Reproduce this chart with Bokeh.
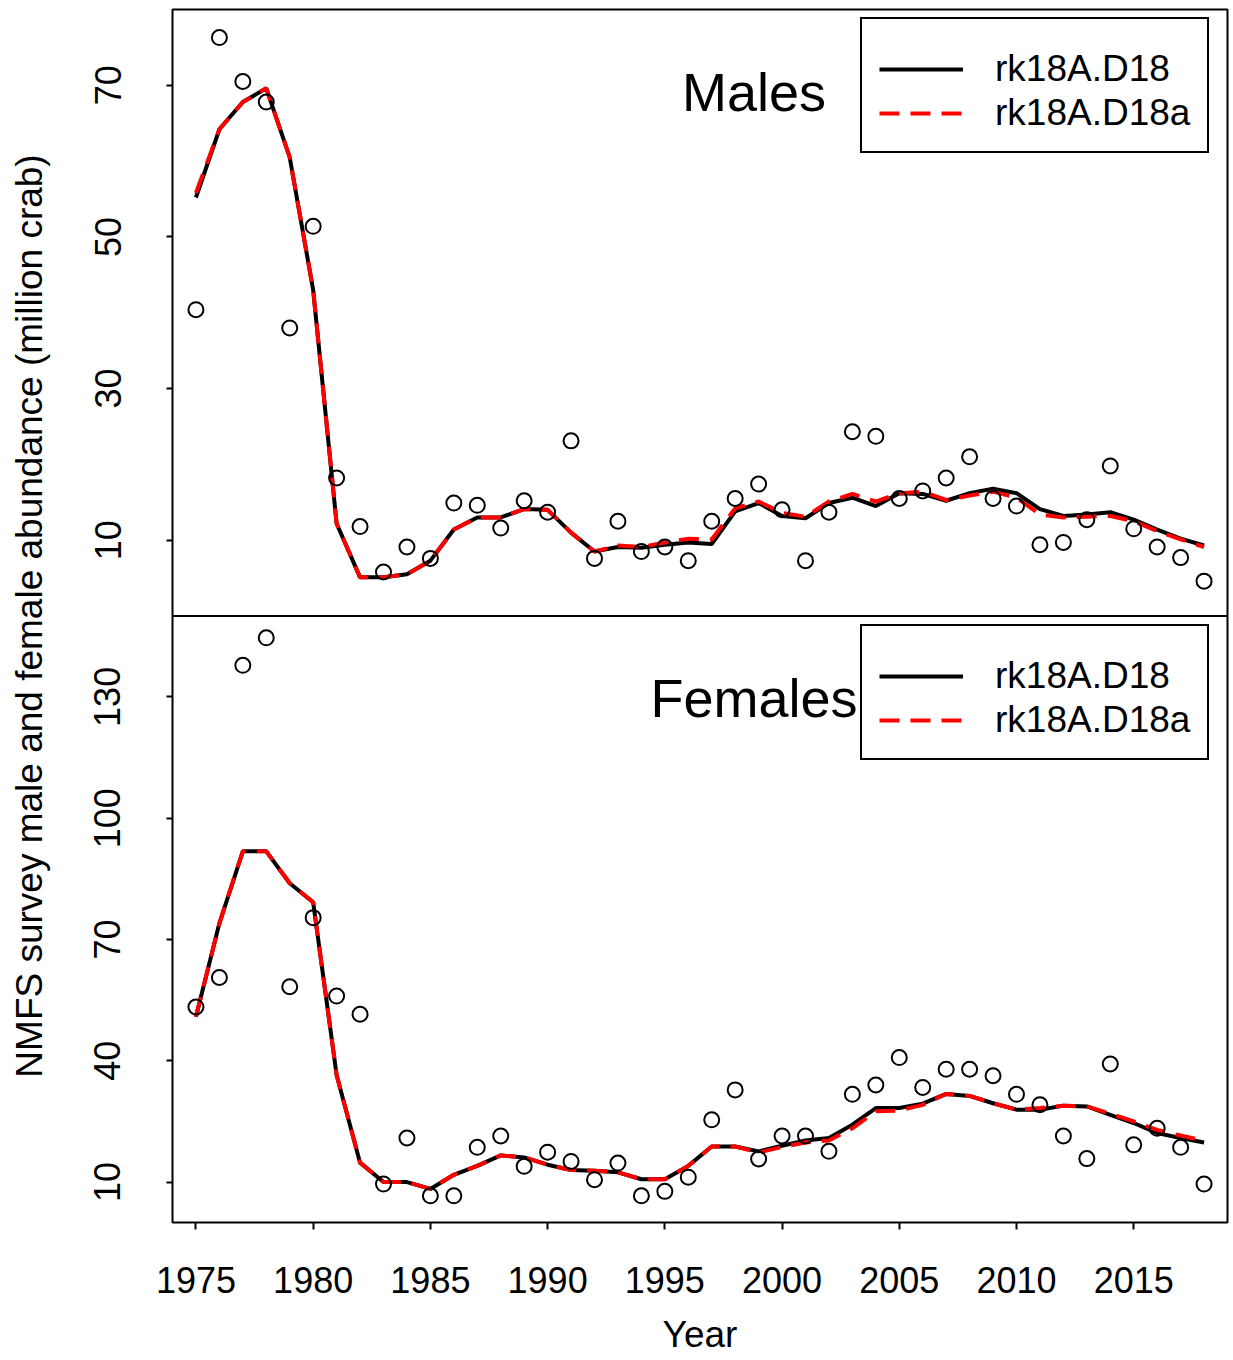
from bokeh.plotting import figure
from bokeh.models import (Range1d, FixedTicker, CustomJSTickFormatter, Span,
                          Legend, LegendItem, Label, ColumnDataSource)
from bokeh.embed import file_html
from bokeh.resources import INLINE

years = list(range(1975, 2019))

male_obs = [40.4, 76.3, 70.5, 67.8, 38.0, 51.4,
            18.2, 11.8, 5.8, 9.1, 7.6,
            14.9, 14.6, 11.6, 15.2, 13.7,
            23.1, 7.6, 12.5, 8.5, 9.1,
            7.3, 12.5, 15.5, 17.4, 14.0,
            7.3, 13.7, 24.3, 23.7, 15.5,
            16.5, 18.2, 21.0, 15.5, 14.5,
            9.4, 9.7, 12.7, 19.8, 11.5,
            9.1, 7.7, 4.6]
male_d18 = [55.2, 64.2, 67.8, 69.6, 60.5, 43.0,
            12.2, 5.1, 5.1, 5.5, 7.3,
            11.4, 13.0, 13.0, 14.1, 14.0,
            11.0, 8.5, 9.1, 9.0, 9.4,
            9.7, 9.5, 13.8, 14.9, 13.2,
            12.9, 14.9, 15.6, 14.5, 16.2,
            16.1, 15.2, 16.2, 16.8, 16.2,
            14.1, 13.2, 13.4, 13.7, 12.7,
            11.4, 10.2, 9.3]
male_d18a = [55.8, 64.2, 67.8, 69.6, 60.5, 43.0,
             12.2, 5.1, 5.1, 5.5, 7.3,
             11.4, 13.0, 13.0, 14.1, 14.0,
             11.0, 8.5, 9.3, 9.1, 9.7,
             10.2, 10.1, 14.2, 15.1, 13.6,
             13.1, 15.1, 16.1, 15.1, 16.2,
             16.4, 15.3, 15.9, 16.4, 15.6,
             13.4, 13.0, 13.1, 13.2, 12.5,
             11.2, 10.1, 9.1]
female_obs = [53.3, 60.6, 137.8, 144.6, 58.3, 75.4,
              56.0, 51.5, 9.5, 20.9, 6.6,
              6.6, 18.6, 21.4, 13.9, 17.4,
              15.1, 10.6, 14.7, 6.6, 7.7,
              11.2, 25.4, 32.8, 15.7, 21.4,
              21.4, 17.6, 31.7, 34.0, 40.8,
              33.4, 37.9, 37.9, 36.3, 31.7,
              29.1, 21.4, 15.8, 39.2, 19.2,
              23.3, 18.6, 9.5]
female_d18 = [50.9, 74.0, 91.8, 91.8, 83.9, 79.2,
              36.5, 14.8, 10.0, 10.0, 8.3,
              11.8, 14.0, 16.6, 16.1, 14.3,
              13.0, 12.8, 12.4, 10.7, 10.7,
              14.0, 18.8, 18.8, 17.6, 19.0,
              20.3, 20.9, 24.2, 28.3, 28.3,
              29.4, 31.8, 31.3, 29.5, 27.9,
              27.9, 28.9, 28.7, 26.6, 24.6,
              22.1, 20.9, 19.8]
female_d18a = [50.9, 74.0, 91.8, 91.8, 83.9, 79.2,
               36.5, 14.8, 10.0, 10.0, 8.3,
               11.8, 14.0, 16.6, 16.1, 14.3,
               13.0, 12.8, 12.4, 10.7, 10.7,
               14.0, 18.8, 18.8, 17.3, 18.7,
               19.8, 20.3, 23.3, 27.5, 27.7,
               29.1, 31.8, 31.3, 29.5, 27.9,
               28.3, 28.9, 28.7, 26.9, 25.0,
               22.9, 21.5, 20.2]

x_ticks = [1975, 1980, 1985, 1990, 1995, 2000, 2005, 2010, 2015]
male_ticks = [10, 30, 50, 70]
female_ticks = [10, 40, 70, 100, 130]
series_labels = ["rk18A.D18", "rk18A.D18a"]
panel_labels = ["Males", "Females"]

FONT = "Liberation Sans"

# Male panel occupies top half: male range 0..80 shown in upper half of (-80, 80)
MY0, MY1 = -80.0, 80.0
# Female panel occupies bottom half: female range 0..150 shown in lower half of (0, 300)
FY0, FY1 = 0.0, 300.0


def f_to_m(v):
    return MY0 + (v - FY0) * (MY1 - MY0) / (FY1 - FY0)


p = figure(width=1229, height=1358, output_backend="svg", toolbar_location=None,
           x_range=Range1d(1974, 2019), y_range=Range1d(MY0, MY1),
           min_border_left=172, min_border_right=2, min_border_top=9,
           min_border_bottom=136)
p.extra_y_ranges = {"f": Range1d(FY0, FY1)}
p.grid.visible = False
p.outline_line_color = "black"
p.outline_line_width = 2
p.outline_line_alpha = 1.0
p.background_fill_color = "white"
p.border_fill_color = "white"

# x axis
xa = p.xaxis[0]
xa.ticker = FixedTicker(ticks=x_ticks)
xa.axis_label = "Year"
xa.axis_label_text_font = FONT
xa.axis_label_text_font_size = "37px"
xa.axis_label_text_font_style = "normal"
xa.axis_label_text_color = "black"
xa.axis_label_standoff = 18
xa.major_label_text_font = FONT
xa.major_label_text_font_size = "36px"
xa.major_label_text_color = "black"
xa.major_label_standoff = 37
xa.major_tick_out = 7
xa.major_tick_in = 0
xa.major_tick_line_width = 2
xa.major_tick_line_color = "black"
xa.minor_tick_line_color = None
xa.axis_line_color = None

# y axis (shared, both panels)
ya = p.yaxis[0]
ya.ticker = FixedTicker(ticks=male_ticks + [f_to_m(t) for t in female_ticks])
ya.formatter = CustomJSTickFormatter(
    args=dict(MY0=MY0, MY1=MY1, FY0=FY0, FY1=FY1),
    code="""
    if (tick >= 0) { return tick.toFixed(0); }
    return Math.round(FY0 + (tick - MY0) * (FY1 - FY0) / (MY1 - MY0)).toString();
    """)
ya.axis_label = "NMFS survey male and female abundance (million crab)"
ya.axis_label_text_font = FONT
ya.axis_label_text_font_size = "37px"
ya.axis_label_text_font_style = "normal"
ya.axis_label_text_color = "black"
ya.axis_label_standoff = 42
ya.major_label_text_font = FONT
ya.major_label_text_font_size = "36px"
ya.major_label_text_color = "black"
ya.major_label_orientation = "vertical"
ya.major_label_standoff = 46
ya.major_tick_out = 6
ya.major_tick_in = 0
ya.major_tick_line_width = 2
ya.major_tick_line_color = "black"
ya.minor_tick_line_color = None
ya.axis_line_color = None

# divider between panels
p.add_layout(Span(location=0, dimension="width", line_color="black", line_width=2))

m_src = ColumnDataSource(dict(year=years, obs=male_obs, a=male_d18, b=male_d18a))
f_src = ColumnDataSource(dict(year=years, obs=female_obs, a=female_d18, b=female_d18a))

LW = 4
DASH = "20 11"
m_a = p.line("year", "a", source=m_src, line_color="black", line_width=LW)
m_b = p.line("year", "b", source=m_src, line_color="red", line_width=LW, line_dash=DASH)
p.scatter("year", "obs", source=m_src, marker="circle", size=15, fill_color=None,
          line_color="black", line_width=2)

f_a = p.line("year", "a", source=f_src, line_color="black", line_width=LW, y_range_name="f")
f_b = p.line("year", "b", source=f_src, line_color="red", line_width=LW, line_dash=DASH,
             y_range_name="f")
p.scatter("year", "obs", source=f_src, marker="circle", size=15, fill_color=None,
          line_color="black", line_width=2, y_range_name="f")


def make_legend(ra, rb, loc):
    lg = Legend(items=[LegendItem(label=series_labels[0], renderers=[ra]),
                       LegendItem(label=series_labels[1], renderers=[rb])],
                location=loc, orientation="vertical")
    lg.title = " "
    lg.title_text_font_size = "9px"
    lg.title_standoff = 2
    lg.label_text_font = FONT
    lg.label_text_font_size = "37px"
    lg.label_text_color = "black"
    lg.glyph_width = 84
    lg.glyph_height = 20
    lg.label_standoff = 32
    lg.padding = 17
    lg.spacing = 2
    lg.margin = 0
    lg.border_line_color = "black"
    lg.border_line_alpha = 1.0
    lg.border_line_width = 2
    lg.background_fill_color = "white"
    lg.background_fill_alpha = 1.0
    return lg


p.add_layout(make_legend(m_a, m_b, (688, 1069)))
p.add_layout(make_legend(f_a, f_b, (688, 462)))

p.add_layout(Label(x=1998.8, y=69.1, text=panel_labels[0], text_align="center",
                   text_baseline="alphabetic", text_font=FONT, text_font_size="54px",
                   text_color="black"))
p.add_layout(Label(x=1998.8, y=129.8, y_range_name="f", text=panel_labels[1],
                   text_align="center", text_baseline="alphabetic", text_font=FONT,
                   text_font_size="54px", text_color="black"))

open("out.html", "w").write(file_html(p, INLINE))
